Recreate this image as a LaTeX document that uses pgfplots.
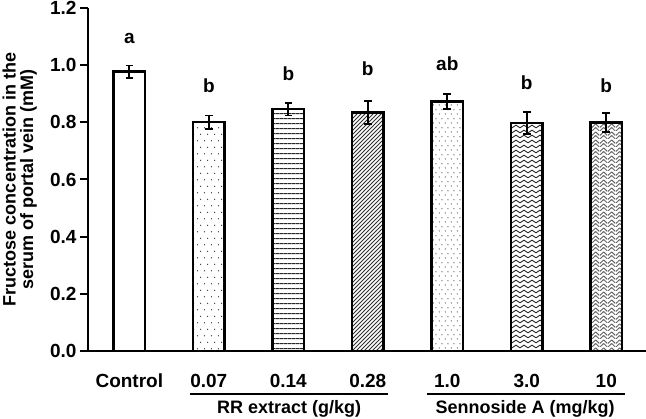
\documentclass[border=0pt]{standalone}
\usepackage{pgfplots}
\pgfplotsset{compat=1.18}
\usepackage{fontspec}
\setmainfont{Liberation Sans}
\usetikzlibrary{patterns,calc}
\newcommand\cf{\fontsize{18}{17.5}\selectfont\bfseries}
\newcommand\nf{\fontsize{19}{18}\selectfont\bfseries}

\pgfdeclarepatternformonly{sdots}{\pgfqpoint{0pt}{0pt}}{\pgfqpoint{7pt}{13.4pt}}{\pgfqpoint{7pt}{13.4pt}}{%
  \pgfpathcircle{\pgfqpoint{1.75pt}{3.35pt}}{0.7pt}%
  \pgfpathcircle{\pgfqpoint{5.25pt}{10.05pt}}{0.7pt}%
  \pgfusepath{fill}}
\pgfdeclarepatternformonly{ddots}{\pgfqpoint{0pt}{0pt}}{\pgfqpoint{6pt}{8.6pt}}{\pgfqpoint{6pt}{8.6pt}}{%
  \pgfpathcircle{\pgfqpoint{1.5pt}{2.15pt}}{0.65pt}%
  \pgfpathcircle{\pgfqpoint{4.5pt}{6.45pt}}{0.65pt}%
  \pgfusepath{fill}}
\pgfdeclarepatternformonly{hlines}{\pgfqpoint{0pt}{0pt}}{\pgfqpoint{4pt}{4.9pt}}{\pgfqpoint{4pt}{4.9pt}}{%
  \pgfsetlinewidth{1.2pt}%
  \pgfpathmoveto{\pgfqpoint{-0.5pt}{2.45pt}}%
  \pgfpathlineto{\pgfqpoint{4.5pt}{2.45pt}}%
  \pgfusepath{stroke}}
\pgfdeclarepatternformonly{nelines}{\pgfqpoint{-1pt}{-1pt}}{\pgfqpoint{5pt}{5pt}}{\pgfqpoint{4pt}{4pt}}{%
  \pgfsetlinewidth{1pt}%
  \pgfpathmoveto{\pgfqpoint{0pt}{0pt}}%
  \pgfpathlineto{\pgfqpoint{4.1pt}{4.1pt}}%
  \pgfusepath{stroke}}
\pgfdeclarepatternformonly{waves}{\pgfqpoint{-1pt}{0pt}}{\pgfqpoint{9pt}{5pt}}{\pgfqpoint{8pt}{5pt}}{%
  \pgfsetlinewidth{0.9pt}%
  \pgfpathmoveto{\pgfqpoint{0pt}{1.2pt}}%
  \pgfpathcurveto{\pgfqpoint{1.5pt}{1.2pt}}{\pgfqpoint{2.5pt}{3.8pt}}{\pgfqpoint{4pt}{3.8pt}}%
  \pgfpathcurveto{\pgfqpoint{5.5pt}{3.8pt}}{\pgfqpoint{6.5pt}{1.2pt}}{\pgfqpoint{8pt}{1.2pt}}%
  \pgfusepath{stroke}}
\pgfdeclarepatternformonly{weave}{\pgfqpoint{0pt}{0pt}}{\pgfqpoint{8pt}{8pt}}{\pgfqpoint{8pt}{8pt}}{%
  \pgfsetlinewidth{1.1pt}%
  \pgfpathmoveto{\pgfqpoint{0pt}{0pt}}\pgfpathlineto{\pgfqpoint{4pt}{4pt}}%
  \pgfpathmoveto{\pgfqpoint{4pt}{4pt}}\pgfpathlineto{\pgfqpoint{8pt}{0pt}}%
  \pgfpathmoveto{\pgfqpoint{0pt}{4pt}}\pgfpathlineto{\pgfqpoint{4pt}{8pt}}%
  \pgfpathmoveto{\pgfqpoint{4pt}{8pt}}\pgfpathlineto{\pgfqpoint{8pt}{4pt}}%
  \pgfusepath{stroke}}

\pgfplotsset{
  mybar/.style={
    ybar, bar width=0.4, bar shift=0pt, line width=2.5pt, draw=black,
    error bars/y dir=both, error bars/y explicit,
    error bars/error bar style={line width=1.8pt, black},
    error bars/error mark options={rotate=90, line width=1.8pt, mark size=3.8pt, black}},
}

\begin{document}
\begin{tikzpicture}
\begin{axis}[
  name=ax,
  scale only axis,
  width=558pt, height=343pt,
  xmin=-0.52, xmax=6.5,
  ymin=0, ymax=1.2,
  axis lines*=left,
  axis line style={line width=2.5pt, -},
  clip=false,
  xtick={0,1,2,3,4,5,6},
  xticklabels={Control,0.07,0.14,0.28,1.0,3.0,10},
  xtick style={draw=none},
  x tick label style={font=\nf, anchor=base, yshift=-29pt},
  ytick={0,0.2,0.4,0.6,0.8,1.0,1.2},
  tick align=outside,
  ytick style={line width=2pt, black},
  major tick length=8pt,
  y tick label style={font=\nf},
  /pgf/number format/assume math mode=true,
  yticklabel={\nf\pgfmathprintnumber[fixed,fixed zerofill,precision=1]{\tick}},
  ylabel={Fructose concentration in the\\serum of portal vein (mM)},
  ylabel style={font=\cf, align=center, at={(axis description cs:-0.0914,0.5)}, anchor=south, inner sep=0pt},
]
\addplot[mybar, fill=white] coordinates {(0,0.977) +- (0,0.022)};
\addplot[mybar, pattern=sdots, pattern color=black!80] coordinates {(1,0.801) +- (0,0.023)};
\addplot[mybar, pattern=hlines, pattern color=black!85] coordinates {(2,0.846) +- (0,0.022)};
\addplot[mybar, pattern=nelines, pattern color=black!80] coordinates {(3,0.835) +- (0,0.040)};
\addplot[mybar, pattern=ddots, pattern color=black!80] coordinates {(4,0.873) +- (0,0.027)};
\addplot[mybar, pattern=waves, pattern color=black!85] coordinates {(5,0.798) +- (0,0.038)};
\addplot[mybar, pattern=weave, pattern color=black!60] coordinates {(6,0.800) +- (0,0.034)};

\addplot[draw=none, mark=none,
  nodes near coords, point meta=explicit symbolic,
  nodes near coords style={font=\nf, anchor=base, inner sep=0pt}]
  table[meta=lab] {
x y lab
0 1.077 a
1 0.905 b
2 0.948 b
3 0.965 b
4 0.983 ab
5 0.916 b
6 0.904 b
};

\draw[line width=1.5pt] ([yshift=-43pt]axis cs:0.767,0) -- ([yshift=-43pt]axis cs:3.26,0);
\draw[line width=1.5pt] ([yshift=-43pt]axis cs:3.74,0) -- ([yshift=-43pt]axis cs:6.23,0);
\node[font=\cf, anchor=base] at ([yshift=-63pt]axis cs:2.01,0) {RR extract (g/kg)};
\node[font=\cf, anchor=base] at ([yshift=-63pt]axis cs:4.98,0) {Sennoside A (mg/kg)};
\end{axis}
\pgfresetboundingbox
\path ($(ax.south west)+(-88pt,-68pt)$) rectangle ($(ax.north east)+(0pt,8pt)$);
\end{tikzpicture}
\end{document}
